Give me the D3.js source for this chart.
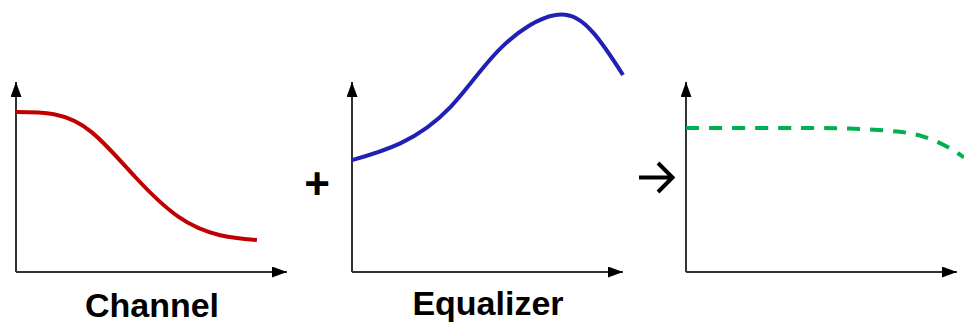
<!DOCTYPE html>
<html>
<head>
<meta charset="utf-8">
<script src="https://cdn.jsdelivr.net/npm/d3@7"></script>
<style>
  html, body { margin: 0; padding: 0; background: #fff; }
  svg { display: block; }
</style>
</head>
<body>
<div id="chart"></div>
<script>
// curve samples, x = frequency (0..10), y = gain (0..10 is the axis height)
const channelX = [0, 1.4, 2.8, 4.4, 6.0, 7.5, 8.89];
const channelY = [8.42, 8.3, 7.35, 5.0, 2.9, 1.95, 1.68];

const equalizerX = [0, 1.78, 3.63, 5.48, 7.52, 8.9, 10.0];
const equalizerY = [5.89, 6.77, 8.68, 11.77, 13.53, 12.6, 10.37];

const resultX = [0, 3.5, 6.0, 7.8, 8.7, 9.5, 10.26];
const resultY = [7.58, 7.58, 7.55, 7.39, 7.15, 6.7, 6.03];

const panelLabels = ["Channel", "Equalizer", ""];
const operators = ["+", "→"];

const width = 964, height = 326;

const svg = d3.select("#chart").append("svg")
  .attr("width", width)
  .attr("height", height);

const defs = svg.append("defs");
defs.append("marker")
  .attr("id", "axis-arrow")
  .attr("viewBox", "0 0 15 11")
  .attr("refX", 15)
  .attr("refY", 5.5)
  .attr("markerWidth", 15)
  .attr("markerHeight", 11)
  .attr("markerUnits", "userSpaceOnUse")
  .attr("orient", "auto")
  .append("path")
  .attr("d", "M0,0 L15,5.5 L0,11 Z")
  .attr("fill", "#000");

const panels = [
  { left: 16, xs: channelX, ys: channelY, color: "#c00000", dash: null, label: panelLabels[0], labelY: 317 },
  { left: 352, xs: equalizerX, ys: equalizerY, color: "#2020b4", dash: null, label: panelLabels[1], labelY: 315 },
  { left: 686, xs: resultX, ys: resultY, color: "#00b050", dash: "13 10", label: panelLabels[2], labelY: 317 }
];

const axisLen = 271;   // x axis length to arrow tip
const baseY = 272;
const topY = 82;

const y = d3.scaleLinear().domain([0, 10]).range([baseY, topY]);

panels.forEach(p => {
  const x = d3.scaleLinear().domain([0, 10]).range([p.left, p.left + axisLen]);
  const g = svg.append("g");

  // axes with arrow heads
  g.append("line")
    .attr("x1", x(0)).attr("y1", y(0))
    .attr("x2", x(0)).attr("y2", y(10))
    .attr("stroke", "#333")
    .attr("stroke-width", 2)
    .attr("marker-end", "url(#axis-arrow)");

  g.append("line")
    .attr("x1", x(0)).attr("y1", y(0))
    .attr("x2", x(10)).attr("y2", y(0))
    .attr("stroke", "#333")
    .attr("stroke-width", 2)
    .attr("marker-end", "url(#axis-arrow)");

  const line = d3.line()
    .x(d => x(d[0]))
    .y(d => y(d[1]))
    .curve(d3.curveNatural);

  g.append("path")
    .datum(d3.zip(p.xs, p.ys))
    .attr("d", line)
    .attr("fill", "none")
    .attr("stroke", p.color)
    .attr("stroke-width", 4)
    .attr("stroke-dasharray", p.dash);

  if (p.label) {
    g.append("text")
      .attr("x", p.left + 136)
      .attr("y", p.labelY)
      .attr("text-anchor", "middle")
      .style("font-family", "'Liberation Sans', Arial, sans-serif")
      .style("font-weight", "bold")
      .style("font-size", "34px")
      .text(p.label);
  }
});

// "+" between channel and equalizer
svg.append("text")
  .attr("x", 317)
  .attr("y", 199)
  .attr("text-anchor", "middle")
  .style("font-family", "'Liberation Sans', Arial, sans-serif")
  .style("font-weight", "bold")
  .style("font-size", "44px")
  .text(operators[0]);

// "→" before the result
svg.append("path")
  .attr("d", "M639,177.5 L672,177.5 M658,163 L672.5,177.5 L658,192")
  .attr("fill", "none")
  .attr("stroke", "#000")
  .attr("stroke-width", 4);
</script>
</body>
</html>
